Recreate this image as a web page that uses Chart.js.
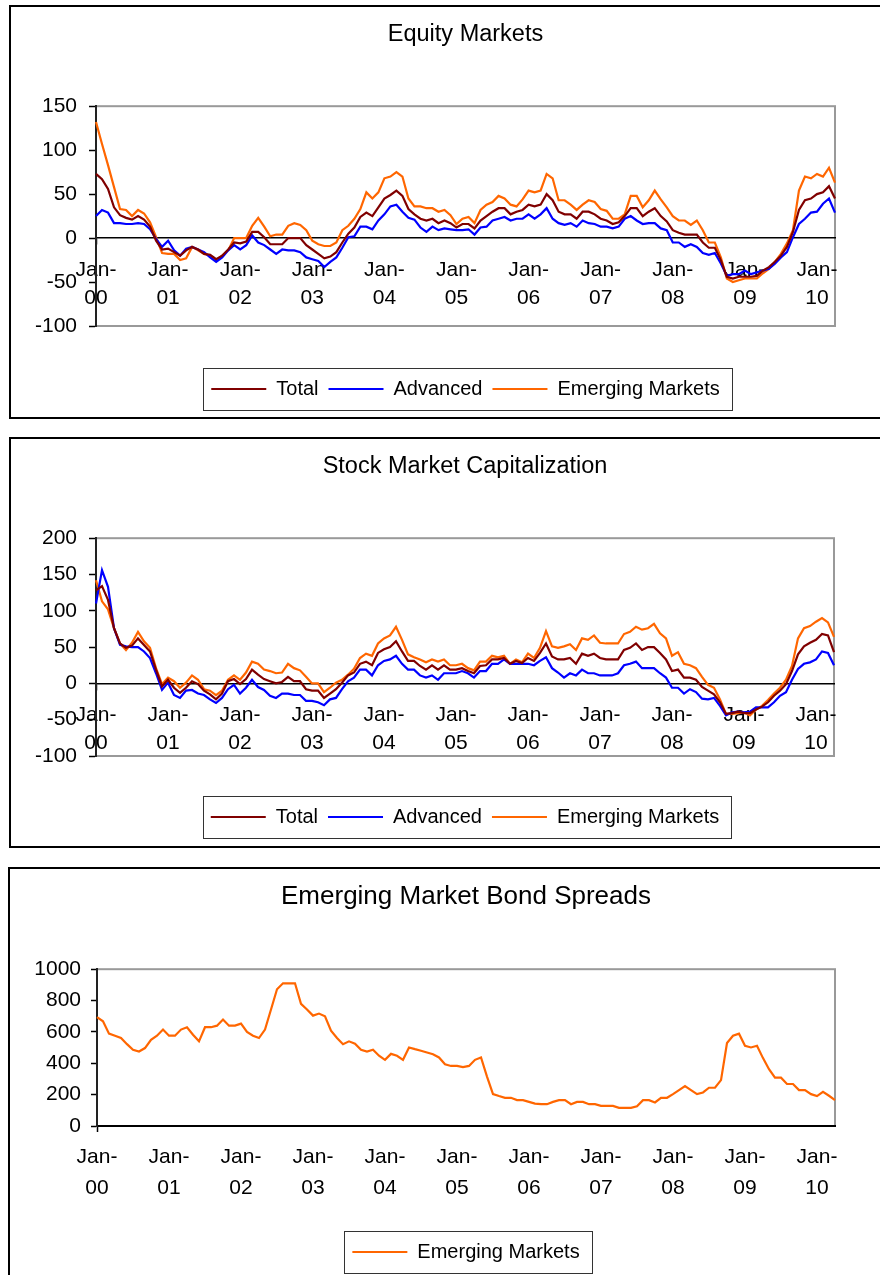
<!DOCTYPE html>
<html>
<head>
<meta charset="utf-8">
<script src="https://cdn.jsdelivr.net/npm/chart.js@4.4.1/dist/chart.umd.min.js"></script>
<style>
  html, body { margin: 0; padding: 0; background: #fff; }
  body { position: relative; width: 880px; height: 1275px; overflow: hidden; }
  .panel { position: absolute; border: 2px solid #000; box-sizing: border-box; }
  canvas { position: absolute; left: 0; }
</style>
</head>
<body>
<div class="panel" style="left:9px; top:5px; width:890px; height:414px"></div>
<canvas id="equity" width="880" height="418" style="top:0"></canvas>
<div class="panel" style="left:9px; top:437px; width:890px; height:411px"></div>
<canvas id="stock" width="880" height="409" style="top:438px"></canvas>
<div class="panel" style="left:8px; top:867px; width:890px; height:420px"></div>
<canvas id="bonds" width="880" height="407" style="top:868px"></canvas>
<script>
// monthly, Jan-00 .. Apr-10
const MONTH_NAMES = ["Jan", "Feb", "Mar", "Apr", "May", "Jun", "Jul", "Aug", "Sep", "Oct", "Nov", "Dec"];
const YEARS = ["00", "01", "02", "03", "04", "05", "06", "07", "08", "09", "10"];
const months = [];
YEARS.forEach(yy => MONTH_NAMES.forEach(m => months.push(m + "-" + yy)));
months.length = 124;

// Equity Markets
const eqTotal = [73, 67, 56, 35, 26, 23, 21, 25, 21, 13,
  -3, -13, -12, -16, -20, -14, -10, -13, -18, -19,
  -24, -20, -13, -5, -6, -4, 7, 7, 1, -7,
  -7, -7, 0, 0, 0, -8, -13, -18, -23, -21,
  -16, -5, 5, 12, 24, 29, 25, 35, 45, 49,
  54, 48, 33, 27, 22, 20, 22, 17, 20, 17,
  12, 16, 16, 11, 20, 25, 30, 34, 34, 27,
  30, 32, 38, 36, 38, 50, 43, 30, 27, 27,
  22, 30, 30, 27, 22, 20, 16, 18, 25, 34,
  34, 25, 30, 34, 25, 19, 9, 6, 4, 4,
  4, -5, -11, -11, -25, -44, -46, -44, -44, -44,
  -43, -37, -33, -27, -20, -10, 7, 32, 43, 45,
  50, 52, 59, 45];
const eqAdvanced = [25, 32, 29, 17, 17, 16, 16, 17, 16, 10,
  -1, -10, -3, -14, -20, -12, -10, -13, -16, -22,
  -27, -22, -14, -8, -13, -8, 3, -5, -8, -13,
  -18, -13, -14, -14, -16, -22, -24, -26, -33, -27,
  -22, -11, 1, 2, 13, 13, 10, 20, 27, 36,
  38, 30, 23, 21, 12, 7, 13, 9, 11, 10,
  9, 9, 10, 4, 12, 13, 20, 22, 24, 20,
  22, 22, 27, 22, 27, 34, 22, 17, 15, 17,
  13, 20, 17, 16, 13, 13, 11, 13, 22, 25,
  20, 16, 17, 17, 11, 9, -5, -5, -10, -7,
  -10, -17, -19, -17, -29, -43, -41, -41, -37, -41,
  -39, -37, -35, -29, -22, -16, 1, 16, 22, 29,
  30, 39, 45, 29];
const eqEmerging = [132, 107, 83, 58, 33, 32, 25, 32, 28, 18,
  1, -17, -18, -18, -25, -23, -10, -14, -18, -20,
  -25, -20, -14, 0, 0, 0, 14, 23, 13, 2,
  4, 4, 14, 17, 15, 9, -3, -7, -9, -9,
  -5, 9, 14, 22, 33, 52, 45, 52, 68, 70,
  75, 70, 45, 36, 36, 34, 34, 30, 32, 26,
  16, 22, 24, 17, 32, 38, 41, 48, 45, 38,
  36, 44, 54, 52, 54, 73, 68, 43, 43, 38,
  32, 38, 43, 41, 33, 31, 22, 22, 27, 48,
  48, 35, 43, 54, 44, 35, 25, 20, 20, 15,
  20, 9, -5, -5, -22, -46, -50, -48, -46, -46,
  -46, -40, -35, -27, -18, -6, 9, 54, 70, 68,
  73, 70, 80, 63];

// Stock Market Capitalization
const capTotal = [128, 134, 115, 76, 55, 49, 52, 62, 53, 44,
  19, -4, 5, -6, -13, -6, 3, -1, -10, -15,
  -22, -14, 3, 6, -1, 6, 19, 12, 6, 3,
  0, 2, 9, 3, 3, -8, -10, -10, -20, -14,
  -8, 1, 11, 15, 27, 30, 25, 42, 47, 50,
  58, 44, 31, 31, 24, 19, 25, 19, 25, 19,
  19, 21, 17, 14, 24, 25, 33, 33, 35, 27,
  31, 28, 35, 31, 42, 55, 37, 33, 33, 35,
  27, 41, 38, 41, 35, 33, 33, 33, 46, 49,
  55, 46, 50, 50, 42, 33, 17, 19, 8, 8,
  5, -5, -10, -15, -26, -42, -41, -39, -41, -41,
  -36, -32, -26, -17, -10, -1, 17, 40, 51, 56,
  60, 68, 66, 43];
const capAdvanced = [110, 156, 133, 76, 53, 51, 50, 50, 44, 35,
  14, -9, 1, -16, -20, -10, -9, -14, -16, -22,
  -27, -20, -8, -2, -14, -6, 5, -5, -9, -17,
  -20, -14, -14, -16, -16, -24, -24, -26, -30, -22,
  -20, -8, 3, 8, 19, 19, 11, 25, 31, 33,
  38, 27, 19, 19, 11, 8, 11, 5, 14, 14,
  14, 17, 14, 8, 17, 17, 27, 27, 33, 27,
  27, 27, 27, 25, 31, 36, 21, 15, 8, 14,
  11, 19, 14, 14, 11, 11, 11, 14, 25, 27,
  30, 21, 21, 21, 14, 8, -6, -6, -14, -8,
  -12, -21, -22, -20, -31, -44, -40, -39, -40, -39,
  -33, -33, -33, -26, -17, -12, 5, 20, 27, 29,
  33, 44, 42, 25];
const capEmerging = [142, 113, 102, 76, 55, 46, 56, 71, 58, 49,
  21, -1, 8, 3, -6, 1, 11, 5, -8, -10,
  -16, -10, 5, 11, 5, 15, 30, 27, 19, 17,
  14, 15, 27, 21, 18, 9, 0, 0, -12, -6,
  1, 5, 12, 20, 35, 41, 38, 55, 62, 66,
  78, 60, 40, 36, 33, 29, 33, 30, 33, 25,
  25, 27, 21, 18, 30, 30, 38, 36, 38, 27,
  33, 29, 41, 35, 49, 72, 51, 49, 51, 54,
  46, 62, 60, 66, 56, 55, 55, 55, 68, 71,
  78, 74, 76, 82, 69, 62, 38, 43, 27, 25,
  21, 9, -2, -6, -22, -42, -42, -41, -40, -44,
  -36, -31, -23, -14, -6, 5, 24, 62, 76, 79,
  85, 90, 84, 64];

// Emerging Market Bond Spreads
const bondSpreads = [694, 668, 589, 576, 561, 522, 486, 475, 497, 550,
  576, 615, 576, 576, 615, 630, 582, 540, 630, 630,
  640, 679, 640, 640, 653, 600, 576, 561, 615, 743,
  872, 910, 910, 910, 779, 743, 704, 717, 700, 608,
  561, 522, 540, 525, 486, 475, 486, 448, 422, 460,
  448, 422, 501, 490, 480, 469, 458, 437, 394, 383,
  383, 375, 383, 422, 437, 315, 203, 191, 180, 180,
  165, 165, 154, 143, 139, 139, 154, 165, 165, 139,
  154, 154, 139, 139, 128, 128, 128, 116, 116, 116,
  126, 165, 165, 150, 180, 180, 203, 229, 255, 229,
  203, 214, 244, 244, 293, 529, 576, 589, 512, 501,
  512, 433, 362, 308, 308, 268, 268, 229, 229, 203,
  191, 218, 193, 165];

const FONT = '"Liberation Sans", Arial, Helvetica, sans-serif';
Chart.defaults.font.family = FONT;
Chart.defaults.color = "#000";

const isJan = i => months[i] && months[i].startsWith("Jan");
const janLabel = function (value) {
  const lbl = this.getLabelForValue(value);
  return lbl.startsWith("Jan") ? ["Jan-", lbl.slice(4)] : null;
};

// grey plot-area frame, axes are drawn over it
const plotFrame = {
  id: "plotFrame",
  beforeDraw(chart) {
    const { ctx, chartArea: a } = chart;
    ctx.save();
    ctx.strokeStyle = "#999";
    ctx.lineWidth = 2;
    ctx.strokeRect(a.left, a.top, a.right - a.left, a.bottom - a.top);
    ctx.restore();
  }
};

// box around the legend entries
const legendFrame = {
  id: "legendFrame",
  afterDraw(chart) {
    const boxes = chart.legend && chart.legend.legendHitBoxes;
    if (!boxes || !boxes.length) return;
    const first = boxes[0], last = boxes[boxes.length - 1];
    const cy = first.top + first.height / 2;
    const x0 = Math.round(first.left - 8) + 0.5;
    const x1 = Math.round(last.left + last.width + 12) + 0.5;
    const ctx = chart.ctx;
    ctx.save();
    ctx.strokeStyle = "#333";
    ctx.lineWidth = 1;
    ctx.strokeRect(x0, Math.round(cy - 21) + 0.5, x1 - x0, 42);
    ctx.restore();
  }
};

const series = (label, data, color) => ({
  label, data,
  borderColor: color,
  backgroundColor: color,
  borderWidth: 2.2,
  pointRadius: 0,
  pointHoverRadius: 0,
  fill: false,
  tension: 0
});

const legendOpts = (gap) => ({
  position: "bottom",
  fullSize: false,
  title: { display: gap > 0, text: "", font: { size: 1, lineHeight: 1 }, padding: { top: Math.max(gap - 1, 0), bottom: 0 } },
  labels: {
    usePointStyle: true,
    pointStyle: "line",
    pointStyleWidth: 55,
    font: { size: 20 },
    padding: 10,
    color: "#000"
  }
});

// charts with the category axis crossing at zero
function zeroAxisChart(id, title, datasets, yMin, yMax, step, lay) {
  return new Chart(document.getElementById(id), {
    type: "line",
    data: { labels: months, datasets },
    options: {
      responsive: false,
      animation: false,
      devicePixelRatio: 1,
      layout: { padding: lay.padding },
      scales: {
        x: {
          type: "category",
          position: { y: 0 },
          offset: false,
          grid: {
            drawOnChartArea: false,
            tickLength: 6,
            tickWidth: 1.5,
            tickColor: c => isJan(c.index) ? "#000" : "rgba(0,0,0,0)"
          },
          border: { color: "#000", width: 1.5 },
          ticks: {
            autoSkip: false, maxRotation: 0, minRotation: 0,
            padding: 12,
            font: { size: 21, lineHeight: 1.34 },
            color: "#000",
            callback: janLabel
          },
          afterFit: s => { s.height = 0; }
        },
        y: {
          min: yMin, max: yMax,
          ticks: { stepSize: step, padding: 12, font: { size: 21 }, color: "#000" },
          grid: { drawOnChartArea: false, tickLength: 7, tickColor: "#000", tickWidth: 1.5 },
          border: { color: "#222", width: 2 },
          afterFit: s => { s.width = lay.yWidth; }
        }
      },
      plugins: {
        title: {
          display: true, text: title, color: "#000",
          fullSize: false,
          font: { size: 23.5, weight: "normal" },
          padding: lay.titlePad
        },
        legend: legendOpts(lay.legendGap),
        tooltip: { enabled: false }
      }
    },
    plugins: [plotFrame, legendFrame]
  });
}

zeroAxisChart("equity", "Equity Markets", [
  series("Total", eqTotal, "#800000"),
  series("Advanced", eqAdvanced, "#0000ff"),
  series("Emerging Markets", eqEmerging, "#ff6600")
], -100, 150, 50, {
  padding: { left: 20, right: 45, top: 0, bottom: 9 },
  titlePad: { top: 20, bottom: 58 },
  legendGap: 43,
  yWidth: 76
});

zeroAxisChart("stock", "Stock Market Capitalization", [
  series("Total", capTotal, "#800000"),
  series("Advanced", capAdvanced, "#0000ff"),
  series("Emerging Markets", capEmerging, "#ff6600")
], -100, 200, 50, {
  padding: { left: 20, right: 46, top: 0, bottom: 10 },
  titlePad: { top: 14, bottom: 58 },
  legendGap: 41,
  yWidth: 76
});

new Chart(document.getElementById("bonds"), {
  type: "line",
  data: { labels: months, datasets: [series("Emerging Markets", bondSpreads, "#ff6600")] },
  options: {
    responsive: false,
    animation: false,
    devicePixelRatio: 1,
    layout: { padding: { left: 20, right: 45, top: 0, bottom: 3 } },
    scales: {
      x: {
        type: "category",
        offset: false,
        grid: {
          drawOnChartArea: false,
          tickLength: 6,
          tickWidth: 1.5,
          tickColor: c => isJan(c.index) ? "#000" : "rgba(0,0,0,0)"
        },
        border: { color: "#000", width: 2 },
        ticks: {
          autoSkip: false, maxRotation: 0, minRotation: 0,
          padding: 9,
          font: { size: 21, lineHeight: 1.5 },
          color: "#000",
          callback: janLabel
        },
        afterFit: s => { s.height = 106; }
      },
      y: {
        min: 0, max: 1000,
        ticks: { stepSize: 200, padding: 10, font: { size: 21 }, color: "#000", format: { useGrouping: false } },
        grid: { drawOnChartArea: false, tickLength: 6, tickColor: "#000", tickWidth: 1.5 },
        border: { color: "#222", width: 2 },
        afterFit: s => { s.width = 77; }
      }
    },
    plugins: {
      title: {
        display: true, text: "Emerging Market Bond Spreads", color: "#000",
        fullSize: false,
        font: { size: 26, weight: "normal" },
        padding: { top: 13, bottom: 57 }
      },
      legend: legendOpts(0),
      tooltip: { enabled: false }
    }
  },
  plugins: [plotFrame, legendFrame]
});
</script>
</body>
</html>
